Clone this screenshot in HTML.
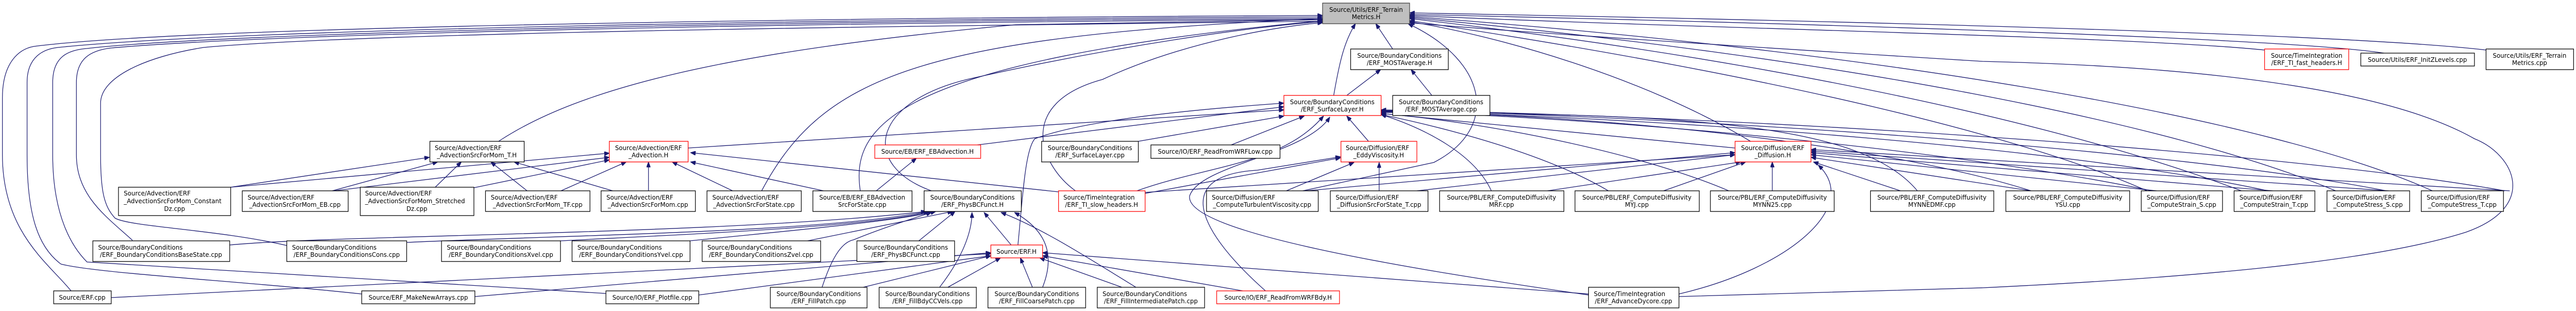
<!DOCTYPE html>
<html><head><meta charset="utf-8"><style>
html,body{margin:0;padding:0;background:#fff;overflow:hidden;width:100%;height:100%;}
svg{display:block;position:absolute;left:0;top:0;width:100vw;height:100vh;}
text{font-family:"DejaVu Sans","Liberation Sans",sans-serif;font-size:12.6px;fill:#000;}
.e{fill:none;stroke:#191970;stroke-width:1.3;}
.n{fill:#fff;stroke:#000;stroke-width:1.3;}
.r{fill:#fff;stroke:#ff0000;stroke-width:1.3;}
.g{fill:#bfbfbf;stroke:#404040;stroke-width:1.3;}
</style></head><body>
<svg viewBox="0 0 5327 603" preserveAspectRatio="none" xmlns="http://www.w3.org/2000/svg">
<defs><marker id="a" viewBox="0 0 10 8" refX="10" refY="4" markerWidth="11" markerHeight="8" markerUnits="userSpaceOnUse" orient="auto"><path d="M0,0 L10,4 L0,8 z" fill="#191970" stroke="#191970"/></marker></defs>
<g class="e" marker-end="url(#a)">
<path d="M147,564 C100,510 5,450 5,300 L5,190 C5,120 40,95 70,90 C400,50 1800,34 2735,30"/>
<path d="M748,570 C500,545 200,530 126,512 C80,480 56,420 56,300 L56,160 C56,110 90,95 120,92 C500,55 1800,36 2735,33"/>
<path d="M1253,569 L180,508 C150,480 109,420 109,300 L109,160 C109,110 140,97 180,94 C500,60 1800,38 2735,36"/>
<path d="M274,466 C220,420 158,380 158,300 L158,160 C158,115 185,98 230,93 C600,62 1800,42 2735,38"/>
<path d="M593,476 C450,445 270,440 238,423 C215,400 208,370 208,300 L208,200 C208,150 300,110 421,92 C800,60 2000,50 2735,41"/>
<path d="M1031,274 C1200,170 1500,100 2100,48 L2735,38"/>
<path d="M1575,370 C1700,150 1900,70 2735,36"/>
<path d="M1779,370 C1760,250 1830,120 2735,40"/>
<path d="M1926,370 C1780,320 1800,200 2000,154 C2300,90 2600,50 2735,42"/>
<path d="M2224,370 C2150,320 2100,200 2280,154 C2450,80 2650,50 2735,44"/>
<path d="M2758,185 C2770,120 2780,80 2803,46"/>
<path d="M2880,95 L2845,46"/>
<path d="M2694,370 L2965,315 C3100,250 3080,120 2912,46"/>
<path d="M3472,575 C3700,570 3900,565 4100,558 C4500,540 4900,510 5100,450 C5250,400 5200,300 5117,269 C4950,180 4600,130 4100,119 C3600,90 3100,60 2915,44"/>
<path d="M4683,97 C4400,70 3500,55 2915,30"/>
<path d="M4930,103 C4700,70 3500,40 2915,28"/>
<path d="M5141,97 C4800,60 3500,35 2915,25"/>
<path d="M4440,370 C4200,270 3700,150 2915,40"/>
<path d="M4635,370 C4300,250 3700,120 2915,36"/>
<path d="M4830,370 C4500,240 3800,110 2915,34"/>
<path d="M5030,370 C4700,230 3900,100 2915,32"/>
<path d="M3620,274 C3400,150 3100,70 2915,42"/>
<path d="M1423,287 L2655,213"/>
<path d="M2021,281 C2300,250 2500,225 2655,207"/>
<path d="M2105,475 C2115,380 2120,290 2140,269 C2250,230 2500,210 2655,200"/>
<path d="M2354,274 L2655,225"/>
<path d="M2546,281 L2697,225"/>
<path d="M2830,274 L2785,225"/>
<path d="M2351,370 C2500,320 2650,320 2737,225"/>
<path d="M3285,572 C2900,520 2450,450 2460,380 C2480,320 2700,300 2750,227"/>
<path d="M3588,287 L2856,220"/>
<path d="M3084,370 C3050,300 2950,250 2856,222"/>
<path d="M3326,370 C3200,300 3000,250 2856,222"/>
<path d="M3575,370 C3400,300 3100,240 2856,220"/>
<path d="M3965,370 C3850,240 3500,220 2856,218"/>
<path d="M4200,370 C3900,280 3300,220 2856,217"/>
<path d="M4450,370 C4100,300 3400,230 2856,216"/>
<path d="M4690,370 C4300,290 3500,230 2856,215"/>
<path d="M4935,370 C4500,290 3500,225 2856,214"/>
<path d="M5180,370 C4700,290 3600,225 2856,213"/>
<path d="M2660,370 L2800,315"/>
<path d="M2852,370 L2852,315"/>
<path d="M2368,375 L2772,306"/>
<path d="M2617,564 C2480,450 2420,340 2600,330 L2772,304"/>
<path d="M2368,373 L3588,300"/>
<path d="M2700,370 L3588,296"/>
<path d="M2930,370 L3588,300"/>
<path d="M3200,370 L3600,314"/>
<path d="M3440,370 L3610,314"/>
<path d="M3665,370 L3665,314"/>
<path d="M3930,370 L3750,314"/>
<path d="M4200,370 L3745,305"/>
<path d="M4460,370 L3745,300"/>
<path d="M4700,370 L3745,296"/>
<path d="M4940,370 L3745,293"/>
<path d="M5190,370 L3745,290"/>
<path d="M3472,570 C3700,520 3850,400 3760,320"/>
<path d="M477,363 L888,305"/>
<path d="M687,370 L905,314"/>
<path d="M900,363 L954,314"/>
<path d="M1090,370 L1015,314"/>
<path d="M1267,370 L1063,314"/>
<path d="M477,363 L1260,297"/>
<path d="M690,370 L1260,305"/>
<path d="M980,364 L1260,310"/>
<path d="M1160,370 L1295,314"/>
<path d="M1341,370 L1341,314"/>
<path d="M1515,370 L1390,314"/>
<path d="M1703,370 L1428,314"/>
<path d="M2189,372 L1428,296"/>
<path d="M1812,370 L1895,307"/>
<path d="M475,475 C700,455 1500,455 1915,410"/>
<path d="M841,470 C1200,455 1700,450 1920,410"/>
<path d="M1159,467 C1400,455 1800,440 1925,410"/>
<path d="M1427,467 C1600,450 1850,430 1935,410"/>
<path d="M1670,467 L1970,410"/>
<path d="M1900,467 L1975,410"/>
<path d="M2091,475 L2035,412"/>
<path d="M1700,557 C1720,500 1740,470 1765,465 C1830,440 1900,420 1926,412"/>
<path d="M1943,557 C1990,500 2010,450 2010,412"/>
<path d="M2156,557 C2180,500 2170,450 2098,412"/>
<path d="M2349,557 C2250,500 2150,440 2070,412"/>
<path d="M230,577 L2049,492"/>
<path d="M982,575 L2049,490"/>
<path d="M1445,572 L2049,496"/>
<path d="M1785,557 L2049,496"/>
<path d="M1960,557 L2069,500"/>
<path d="M2135,557 L2110,500"/>
<path d="M2320,557 L2150,500"/>
<path d="M2570,564 L2156,496"/>
<path d="M3285,570 L2156,490"/>
<path d="M2785,185 L2855,135"/>
<path d="M2961,185 L2918,135"/>
</g>
<g>
<rect class="g" x="2735" y="6" width="180" height="40"/><text x="2825" y="23" text-anchor="middle">Source/Utils/ERF_Terrain</text><text x="2825" y="37" text-anchor="middle">Metrics.H</text>
<rect class="n" x="2793" y="95" width="202" height="40"/><text x="2894" y="112" text-anchor="middle">Source/BoundaryConditions</text><text x="2894" y="126" text-anchor="middle">/ERF_MOSTAverage.H</text>
<rect class="r" x="4683" y="95" width="174" height="40"/><text x="4770" y="112" text-anchor="middle">Source/TimeIntegration</text><text x="4770" y="126" text-anchor="middle">/ERF_TI_fast_headers.H</text>
<rect class="n" x="4882" y="103" width="235" height="25"/><text x="4999" y="120" text-anchor="middle">Source/Utils/ERF_InitZLevels.cpp</text>
<rect class="n" x="5141" y="95" width="181" height="40"/><text x="5231" y="112" text-anchor="middle">Source/Utils/ERF_Terrain</text><text x="5231" y="126" text-anchor="middle">Metrics.cpp</text>
<rect class="r" x="2655" y="185" width="201" height="39"/><text x="2755" y="202" text-anchor="middle">Source/BoundaryConditions</text><text x="2755" y="216" text-anchor="middle">/ERF_SurfaceLayer.H</text>
<rect class="n" x="2880" y="185" width="201" height="39"/><text x="2980" y="202" text-anchor="middle">Source/BoundaryConditions</text><text x="2980" y="216" text-anchor="middle">/ERF_MOSTAverage.cpp</text>
<rect class="n" x="889" y="274" width="195" height="40"/><text x="899" y="291">Source/Advection/ERF</text><text x="986" y="305" text-anchor="middle">_AdvectionSrcForMom_T.H</text>
<rect class="r" x="1260" y="274" width="163" height="40"/><text x="1341" y="291" text-anchor="middle">Source/Advection/ERF</text><text x="1341" y="305" text-anchor="middle">_Advection.H</text>
<rect class="r" x="1809" y="281" width="219" height="26"/><text x="1918" y="298" text-anchor="middle">Source/EB/ERF_EBAdvection.H</text>
<rect class="n" x="2154" y="274" width="200" height="40"/><text x="2254" y="291" text-anchor="middle">Source/BoundaryConditions</text><text x="2254" y="305" text-anchor="middle">/ERF_SurfaceLayer.cpp</text>
<rect class="n" x="2380" y="281" width="267" height="26"/><text x="2513" y="298" text-anchor="middle">Source/IO/ERF_ReadFromWRFLow.cpp</text>
<rect class="r" x="2773" y="274" width="157" height="40"/><text x="2783" y="291">Source/Diffusion/ERF</text><text x="2851" y="305" text-anchor="middle">_EddyViscosity.H</text>
<rect class="r" x="3588" y="274" width="157" height="40"/><text x="3666" y="291" text-anchor="middle">Source/Diffusion/ERF</text><text x="3666" y="305" text-anchor="middle">_Diffusion.H</text>

<rect class="n" x="245" y="363" width="232" height="55"/><text x="256" y="379">Source/Advection/ERF</text><text x="256" y="394">_AdvectionSrcForMom_Constant</text><text x="361" y="409" text-anchor="middle">Dz.cpp</text>
<rect class="n" x="501" y="370" width="219" height="40"/><text x="512" y="387">Source/Advection/ERF</text><text x="610" y="401" text-anchor="middle">_AdvectionSrcForMom_EB.cpp</text>
<rect class="n" x="745" y="363" width="235" height="55"/><text x="755" y="379">Source/Advection/ERF</text><text x="755" y="394">_AdvectionSrcForMom_Stretched</text><text x="862" y="409" text-anchor="middle">Dz.cpp</text>
<rect class="n" x="1004" y="370" width="216" height="40"/><text x="1015" y="387">Source/Advection/ERF</text><text x="1112" y="401" text-anchor="middle">_AdvectionSrcForMom_TF.cpp</text>
<rect class="n" x="1243" y="370" width="195" height="40"/><text x="1254" y="387">Source/Advection/ERF</text><text x="1340" y="401" text-anchor="middle">_AdvectionSrcForMom.cpp</text>
<rect class="n" x="1462" y="370" width="195" height="40"/><text x="1473" y="387">Source/Advection/ERF</text><text x="1559" y="401" text-anchor="middle">_AdvectionSrcForState.cpp</text>
<rect class="n" x="1681" y="370" width="205" height="40"/><text x="1783" y="387" text-anchor="middle">Source/EB/ERF_EBAdvection</text><text x="1783" y="401" text-anchor="middle">SrcForState.cpp</text>
<rect class="n" x="1911" y="370" width="201" height="40"/><text x="2011" y="387" text-anchor="middle">Source/BoundaryConditions</text><text x="2011" y="401" text-anchor="middle">/ERF_PhysBCFunct.H</text>
<rect class="r" x="2189" y="370" width="179" height="40"/><text x="2199" y="387">Source/TimeIntegration</text><text x="2278" y="401" text-anchor="middle">/ERF_TI_slow_headers.H</text>
<rect class="n" x="2495" y="370" width="231" height="40"/><text x="2506" y="387">Source/Diffusion/ERF</text><text x="2610" y="401" text-anchor="middle">_ComputeTurbulentViscosity.cpp</text>
<rect class="n" x="2751" y="370" width="202" height="40"/><text x="2762" y="387">Source/Diffusion/ERF</text><text x="2852" y="401" text-anchor="middle">_DiffusionSrcForState_T.cpp</text>
<rect class="n" x="2977" y="370" width="257" height="40"/><text x="3105" y="387" text-anchor="middle">Source/PBL/ERF_ComputeDiffusivity</text><text x="3105" y="401" text-anchor="middle">MRF.cpp</text>
<rect class="n" x="3257" y="370" width="257" height="40"/><text x="3385" y="387" text-anchor="middle">Source/PBL/ERF_ComputeDiffusivity</text><text x="3385" y="401" text-anchor="middle">MYJ.cpp</text>
<rect class="n" x="3537" y="370" width="256" height="40"/><text x="3665" y="387" text-anchor="middle">Source/PBL/ERF_ComputeDiffusivity</text><text x="3665" y="401" text-anchor="middle">MYNN25.cpp</text>
<rect class="n" x="3868" y="370" width="255" height="40"/><text x="3995" y="387" text-anchor="middle">Source/PBL/ERF_ComputeDiffusivity</text><text x="3995" y="401" text-anchor="middle">MYNNEDMF.cpp</text>
<rect class="n" x="4148" y="370" width="256" height="40"/><text x="4276" y="387" text-anchor="middle">Source/PBL/ERF_ComputeDiffusivity</text><text x="4276" y="401" text-anchor="middle">YSU.cpp</text>
<rect class="n" x="4428" y="370" width="168" height="40"/><text x="4439" y="387">Source/Diffusion/ERF</text><text x="4512" y="401" text-anchor="middle">_ComputeStrain_S.cpp</text>
<rect class="n" x="4620" y="370" width="167" height="40"/><text x="4631" y="387">Source/Diffusion/ERF</text><text x="4703" y="401" text-anchor="middle">_ComputeStrain_T.cpp</text>
<rect class="n" x="4812" y="370" width="171" height="40"/><text x="4823" y="387">Source/Diffusion/ERF</text><text x="4897" y="401" text-anchor="middle">_ComputeStress_S.cpp</text>
<rect class="n" x="5007" y="370" width="170" height="40"/><text x="5018" y="387">Source/Diffusion/ERF</text><text x="5092" y="401" text-anchor="middle">_ComputeStress_T.cpp</text>

<rect class="n" x="192" y="467" width="283" height="40"/><text x="203" y="484">Source/BoundaryConditions</text><text x="333" y="498" text-anchor="middle">/ERF_BoundaryConditionsBaseState.cpp</text>
<rect class="n" x="593" y="467" width="248" height="40"/><text x="604" y="484">Source/BoundaryConditions</text><text x="717" y="498" text-anchor="middle">/ERF_BoundaryConditionsCons.cpp</text>
<rect class="n" x="913" y="467" width="246" height="40"/><text x="924" y="484">Source/BoundaryConditions</text><text x="1036" y="498" text-anchor="middle">/ERF_BoundaryConditionsXvel.cpp</text>
<rect class="n" x="1183" y="467" width="244" height="40"/><text x="1194" y="484">Source/BoundaryConditions</text><text x="1305" y="498" text-anchor="middle">/ERF_BoundaryConditionsYvel.cpp</text>
<rect class="n" x="1452" y="467" width="245" height="40"/><text x="1463" y="484">Source/BoundaryConditions</text><text x="1574" y="498" text-anchor="middle">/ERF_BoundaryConditionsZvel.cpp</text>
<rect class="n" x="1772" y="467" width="202" height="40"/><text x="1873" y="484" text-anchor="middle">Source/BoundaryConditions</text><text x="1873" y="498" text-anchor="middle">/ERF_PhysBCFunct.cpp</text>
<rect class="r" x="2049" y="475" width="107" height="25"/><text x="2102" y="492" text-anchor="middle">Source/ERF.H</text>

<rect class="n" x="111" y="564" width="119" height="25"/><text x="170" y="581" text-anchor="middle">Source/ERF.cpp</text>
<rect class="n" x="748" y="564" width="234" height="25"/><text x="865" y="581" text-anchor="middle">Source/ERF_MakeNewArrays.cpp</text>
<rect class="n" x="1253" y="564" width="192" height="25"/><text x="1349" y="581" text-anchor="middle">Source/IO/ERF_Plotfile.cpp</text>
<rect class="n" x="1593" y="557" width="200" height="40"/><text x="1693" y="574" text-anchor="middle">Source/BoundaryConditions</text><text x="1693" y="588" text-anchor="middle">/ERF_FillPatch.cpp</text>
<rect class="n" x="1818" y="557" width="201" height="40"/><text x="1918" y="574" text-anchor="middle">Source/BoundaryConditions</text><text x="1918" y="588" text-anchor="middle">/ERF_FillBdyCCVels.cpp</text>
<rect class="n" x="2043" y="557" width="202" height="40"/><text x="2144" y="574" text-anchor="middle">Source/BoundaryConditions</text><text x="2144" y="588" text-anchor="middle">/ERF_FillCoarsePatch.cpp</text>
<rect class="n" x="2269" y="557" width="222" height="40"/><text x="2280" y="574">Source/BoundaryConditions</text><text x="2380" y="588" text-anchor="middle">/ERF_FillIntermediatePatch.cpp</text>
<rect class="r" x="2516" y="564" width="254" height="25"/><text x="2643" y="581" text-anchor="middle">Source/IO/ERF_ReadFromWRFBdy.H</text>
<rect class="n" x="3285" y="557" width="187" height="40"/><text x="3296" y="574">Source/TimeIntegration</text><text x="3378" y="588" text-anchor="middle">/ERF_AdvanceDycore.cpp</text>
</g>
</svg>
</body></html>
